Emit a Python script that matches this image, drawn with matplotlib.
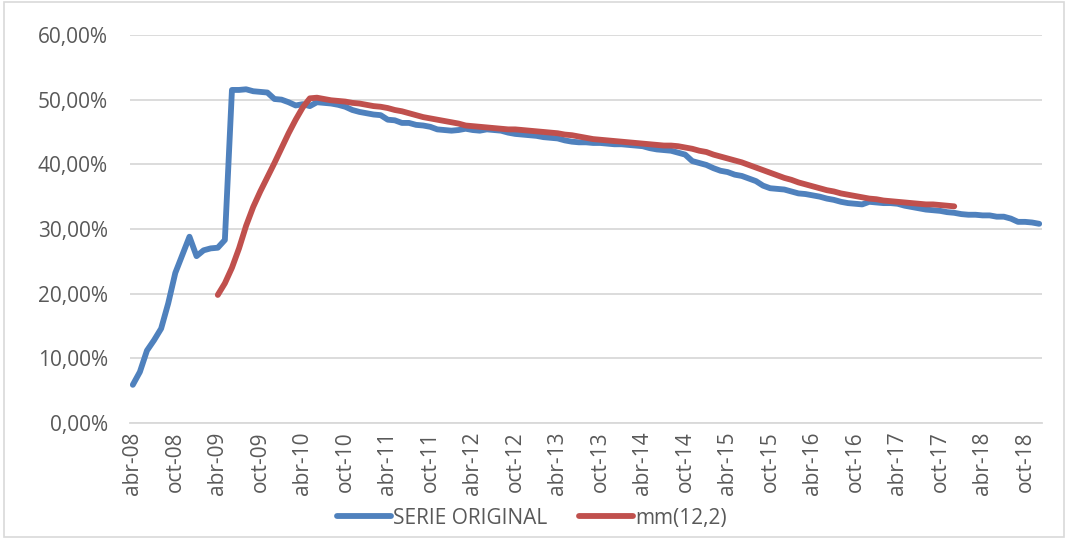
import matplotlib.pyplot as plt
import numpy as np
from matplotlib.patches import Rectangle
from matplotlib.ticker import FuncFormatter

# monthly series, abr-08 .. dic-18 (values in %)
serie_original = [
    5.9, 7.9, 11.2, 12.8, 14.6, 18.5, 23.2, 26.0, 28.8, 25.8, 26.7, 27.0,
    27.1, 28.3, 51.5, 51.5, 51.6, 51.3, 51.2, 51.1, 50.1, 50.0, 49.6, 49.1,
    49.3, 49.0, 49.6, 49.5, 49.4, 49.2, 48.9, 48.4, 48.1, 47.9, 47.7, 47.6,
    46.9, 46.8, 46.4, 46.4, 46.1, 46.0, 45.8, 45.4, 45.3, 45.2, 45.3, 45.5,
    45.3, 45.2, 45.4, 45.3, 45.2, 44.9, 44.7, 44.6, 44.5, 44.4, 44.2, 44.1,
    44.0, 43.7, 43.5, 43.4, 43.4, 43.3, 43.3, 43.2, 43.1, 43.1, 43.0, 42.9,
    42.8, 42.5, 42.3, 42.2, 42.1, 41.8, 41.5, 40.5, 40.2, 39.9, 39.4, 39.0,
    38.8, 38.4, 38.2, 37.8, 37.4, 36.7, 36.3, 36.2, 36.1, 35.8, 35.5, 35.4,
    35.2, 35.0, 34.7, 34.5, 34.2, 34.0, 33.9, 33.8, 34.2, 34.1, 34.0, 34.0,
    33.9, 33.6, 33.4, 33.2, 33.0, 32.9, 32.8, 32.6, 32.5, 32.3, 32.2, 32.2,
    32.1, 32.1, 31.9, 31.9, 31.6, 31.1, 31.1, 31.0, 30.8,
]

# mm(12,2) starts at abr-09 (month 12) and ends at dic-17 (month 116)
mm_start = 12
mm_12_2 = [
    19.8, 21.6, 24.0, 27.0, 30.5, 33.4, 35.8, 38.0, 40.2, 42.5, 44.8, 46.9,
    48.8, 50.2, 50.3, 50.1, 49.9, 49.8, 49.7, 49.5, 49.4, 49.2, 49.0, 48.9,
    48.7, 48.4, 48.2, 47.9, 47.6, 47.3, 47.1, 46.9, 46.7, 46.5, 46.3, 46.0,
    45.9, 45.8, 45.7, 45.6, 45.5, 45.4, 45.4, 45.3, 45.2, 45.1, 45.0, 44.9,
    44.8, 44.6, 44.5, 44.3, 44.1, 43.9, 43.8, 43.7, 43.6, 43.5, 43.4, 43.3,
    43.2, 43.1, 43.0, 42.9, 42.9, 42.8, 42.6, 42.4, 42.1, 41.9, 41.5, 41.2,
    40.9, 40.6, 40.3, 39.9, 39.5, 39.1, 38.7, 38.3, 37.9, 37.6, 37.2, 36.9,
    36.6, 36.3, 36.0, 35.8, 35.5, 35.3, 35.1, 34.9, 34.7, 34.6, 34.4, 34.3,
    34.2, 34.1, 34.0, 33.9, 33.8, 33.8, 33.7, 33.6, 33.5,
]

tick_labels = [
    'abr-08', 'oct-08', 'abr-09', 'oct-09', 'abr-10', 'oct-10', 'abr-11',
    'oct-11', 'abr-12', 'oct-12', 'abr-13', 'oct-13', 'abr-14', 'oct-14',
    'abr-15', 'oct-15', 'abr-16', 'oct-16', 'abr-17', 'oct-17', 'abr-18',
    'oct-18',
]

plt.rcParams['font.family'] = ['Open Sans', 'DejaVu Sans']
text_col = '#595959'
grid_col = '#D9D9D9'
fs = 15

fig = plt.figure(figsize=(10.68, 5.38), dpi=100)
ax = fig.add_axes([0.1217, 0.2138, 0.854, 0.7212])

x_orig = np.arange(len(serie_original))
x_mm = np.arange(mm_start, mm_start + len(mm_12_2))
ax.plot(x_orig, np.array(serie_original) / 100, color='#4F81BD', lw=4.2,
        solid_capstyle='round', solid_joinstyle='round', label='SERIE ORIGINAL')
ax.plot(x_mm, np.array(mm_12_2) / 100, color='#C0504D', lw=4.2,
        solid_capstyle='round', solid_joinstyle='round', label='mm(12,2)')

ax.set_ylim(0, 0.6)
ax.set_yticks(np.arange(0, 0.61, 0.1))
ax.yaxis.set_major_formatter(FuncFormatter(lambda v, p: f'{v*100:.2f}%'.replace('.', ',')))
ax.set_xlim(-0.4, len(serie_original) - 0.6)
ax.set_xticks(np.arange(0, 6 * len(tick_labels), 6))
ax.set_xticklabels(tick_labels, rotation=90)

ax.grid(axis='y', color=grid_col, lw=1.3)
ax.set_axisbelow(True)
for s in ['top', 'right', 'left']:
    ax.spines[s].set_visible(False)
ax.spines['bottom'].set_color(grid_col)
ax.spines['bottom'].set_linewidth(1.3)
ax.tick_params(length=0, labelsize=fs, colors=text_col)
ax.tick_params(axis='y', pad=16)
ax.tick_params(axis='x', pad=6)

fig.legend(loc='center', bbox_to_anchor=(0.498, 0.037), ncol=2, frameon=False,
           fontsize=fs, handlelength=2.6, handletextpad=0.1, columnspacing=1.5,
           labelcolor=text_col)

fig.patches.append(Rectangle((0.004, 0.002), 0.992, 0.995, transform=fig.transFigure,
                             fill=False, edgecolor=grid_col, lw=1.2))

fig.savefig('out.png', dpi=100)
